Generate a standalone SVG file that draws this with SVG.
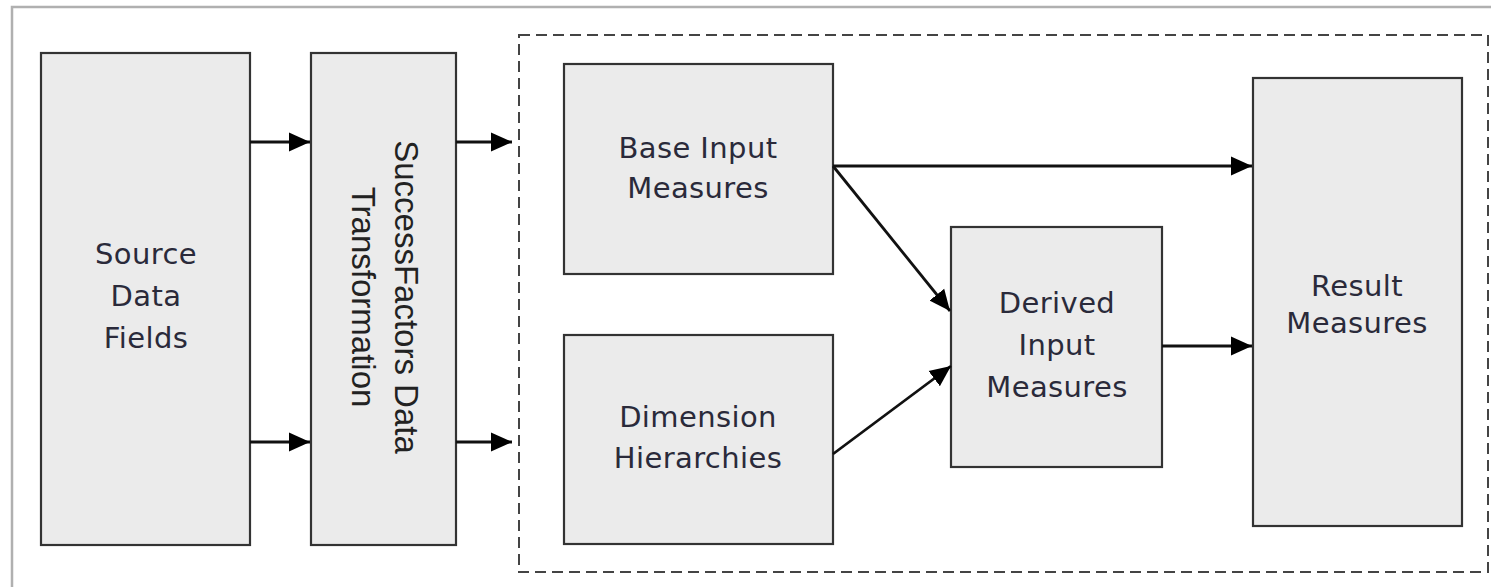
<svg xmlns="http://www.w3.org/2000/svg" width="1491" height="587" viewBox="0 0 1491 587">
  <style>
    .box { fill: #ebebeb; stroke: #333; stroke-width: 2.2; }
    .lbl { font-family: "DejaVu Sans", Verdana, sans-serif; font-size: 29px; letter-spacing: 0.4px; fill: #2a2a3a; text-anchor: middle; }
    .vlbl { font-family: "Liberation Sans", Arial, sans-serif; font-size: 33px; fill: #222; text-anchor: middle; }
    .conn { stroke: #111; stroke-width: 2.8; fill: none; marker-end: url(#arrow); }
  </style>
  <defs>
    <marker id="arrow" markerUnits="userSpaceOnUse" markerWidth="21" markerHeight="21" viewBox="0 0 21 21" refX="21" refY="10.5" orient="auto">
      <path d="M0,1 L21,10.5 L0,20 Z" fill="#000"/>
    </marker>
  </defs>
  <rect width="1491" height="587" fill="#fff"/>
  <!-- outer frame -->
  <rect x="12" y="7" width="1500" height="600" fill="none" stroke="#b0b0b0" stroke-width="2.5"/>
  <!-- dashed group boundary -->
  <rect id="group" x="519" y="35" width="969" height="537" fill="none" stroke="#444" stroke-width="2" stroke-dasharray="11 6"/>

  <g id="source">
    <rect class="box" x="41" y="53" width="209" height="492"/>
    <text class="lbl" x="146" y="264">Source</text>
    <text class="lbl" x="146" y="306">Data</text>
    <text class="lbl" x="146" y="348">Fields</text>
  </g>
  <g id="transformation">
    <rect class="box" x="311" y="53" width="145" height="492"/>
    <g transform="translate(395,297) rotate(90)">
      <text class="vlbl" x="0" y="0">SuccessFactors Data</text>
      <text class="vlbl" x="0" y="43">Transformation</text>
    </g>
  </g>
  <g id="base-input">
    <rect class="box" x="564" y="64" width="269" height="210"/>
    <text class="lbl" x="698" y="158">Base Input</text>
    <text class="lbl" x="698" y="198">Measures</text>
  </g>
  <g id="dimension">
    <rect class="box" x="564" y="335" width="269" height="209"/>
    <text class="lbl" x="698" y="427">Dimension</text>
    <text class="lbl" x="698" y="468">Hierarchies</text>
  </g>
  <g id="derived">
    <rect class="box" x="951" y="227" width="211" height="240"/>
    <text class="lbl" x="1057" y="313">Derived</text>
    <text class="lbl" x="1057" y="355">Input</text>
    <text class="lbl" x="1057" y="397">Measures</text>
  </g>
  <g id="result">
    <rect class="box" x="1253" y="78" width="209" height="448"/>
    <text class="lbl" x="1357" y="296">Result</text>
    <text class="lbl" x="1357" y="333">Measures</text>
  </g>

  <g id="connectors">
    <line class="conn" x1="250" y1="142" x2="310" y2="142"/>
    <line class="conn" x1="250" y1="442" x2="310" y2="442"/>
    <line class="conn" x1="456" y1="142" x2="512" y2="142"/>
    <line class="conn" x1="456" y1="442" x2="512" y2="442"/>
    <line class="conn" x1="833" y1="166" x2="1252" y2="166"/>
    <line class="conn" x1="833" y1="166" x2="950" y2="311"/>
    <line class="conn" x1="833" y1="454" x2="951" y2="366"/>
    <line class="conn" x1="1162" y1="346" x2="1252" y2="346"/>
  </g>
</svg>
